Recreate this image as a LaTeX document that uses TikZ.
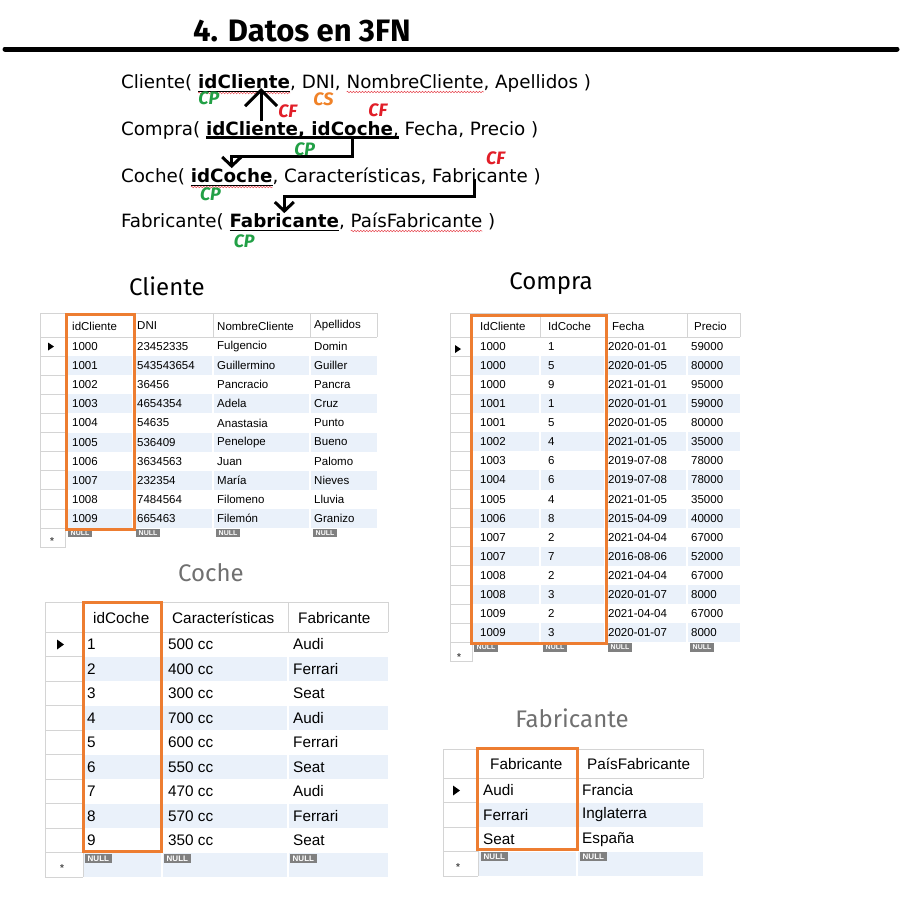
\documentclass[tikz,border=0pt]{standalone}
\usepackage{fontspec}
\setmainfont{Liberation Sans}
\newfontfamily\schemafont{DejaVu Sans}
\newfontfamily\handfont{Fira Sans}
\usetikzlibrary{positioning,arrows.meta,decorations.pathmorphing}

\definecolor{keyorange}{RGB}{237,125,49}
\definecolor{cpgreen}{RGB}{34,160,70}
\definecolor{cfred}{RGB}{225,30,40}
\definecolor{csorange}{RGB}{240,130,40}
\definecolor{rowshade}{RGB}{234,241,250}
\definecolor{gridgrey}{RGB}{212,212,212}
\definecolor{nullgrey}{RGB}{128,128,128}
\definecolor{titlegrey}{RGB}{112,112,112}

\tikzset{
  rel/.style={font=\schemafont\fontsize{18.3}{22}\selectfont, inner sep=0pt, outer sep=0pt},
  relkey/.style={rel, font=\schemafont\bfseries\fontsize{18.3}{22}\selectfont},
  uline/.style={line width=1.6pt},
  spell/.style={draw=cfred!80, line width=0.5pt, decorate,
    decoration={snake, amplitude=0.8pt, segment length=3pt}},
  tag/.style={font=\handfont\bfseries\itshape\fontsize{18}{18}\selectfont, inner sep=0pt},
  cp/.style={tag, text=cpgreen},
  cf/.style={tag, text=cfred},
  cs/.style={tag, text=csorange},
  fk/.style={line width=3pt, -{Straight Barb[length=9pt, width=19pt]}},
  fkbig/.style={line width=3pt, -{Straight Barb[length=16pt, width=32pt]}},
  tabtitle/.style={font=\handfont\fontsize{24}{26}\selectfont, inner sep=0pt},
  grid/.style={draw=gridgrey, line width=0.7pt},
  sep/.style={draw=white, line width=1.2pt},
  keybox/.style={draw=keyorange, line width=3pt},
  td/.style={font=\fontsize{11.5}{13}\selectfont, anchor=west, inner sep=0pt},
  tdbig/.style={font=\fontsize{15.3}{17}\selectfont, anchor=west, inner sep=0pt},
  nullbox/.style={fill=nullgrey, text=white, font=\bfseries\fontsize{7}{7}\selectfont,
    inner xsep=2.5pt, inner ysep=1.8pt, anchor=north west},
  nullbig/.style={nullbox, font=\bfseries\fontsize{8}{8}\selectfont},
  rowstar/.style={font=\bfseries\fontsize{10}{10}\selectfont, inner sep=0pt, text=black!70}
}

\begin{document}
\begin{tikzpicture}[x=1pt, y=-1pt]
\useasboundingbox (0,0) rectangle (902,908);

% title and rule
\node[font=\handfont\bfseries\fontsize{31}{34}\selectfont, anchor=base west, inner sep=0pt]
  (title) at (193,41) {4. Datos en 3FN};
\draw[line width=5pt, line cap=round] (5,49) -- (897,49);

%% relations in 3FN
\node[rel, anchor=base west] (cliA) at (121,88) {Cliente(\ \null};
\node[relkey, base right=0pt of cliA] (cliK) {idCliente};
\node[rel, base right=0pt of cliK] (cliB) {,\ \null};
\node[rel, base right=0pt of cliB] (cliDNI) {DNI};
\node[rel, base right=0pt of cliDNI] (cliC) {,\ \null};
\node[rel, base right=0pt of cliC] (cliNom) {NombreCliente};
\node[rel, base right=0pt of cliNom] (cliD) {, Apellidos )};

\node[rel, anchor=base west] (cpA) at (121,135) {Compra(\ \null};
\node[relkey, base right=0pt of cpA] (cpK1) {idCliente};
\node[relkey, base right=0pt of cpK1] (cpM) {,\ \null};
\node[relkey, base right=0pt of cpM] (cpK2) {idCoche};
\node[rel, base right=0pt of cpK2] (cpB) {, Fecha, Precio )};

\node[rel, anchor=base west] (coA) at (121,182) {Coche(\ \null};
\node[relkey, base right=0pt of coA] (coK) {idCoche};
\node[rel, base right=0pt of coK] (coB) {, Características,\ \null};
\node[rel, base right=0pt of coB] (coFab) {Fabricante};
\node[rel, base right=0pt of coFab] (coC) {\ )};

\node[rel, anchor=base west] (faA) at (121,227) {Fabricante(\ \null};
\node[relkey, base right=0pt of faA] (faK) {Fabricante};
\node[rel, base right=0pt of faK] (faB) {,\ \null};
\node[rel, base right=0pt of faB] (faPais) {PaísFabricante};
\node[rel, base right=0pt of faPais] (faC) {\ )};

% spell check waves
\draw[spell] ([yshift=-5pt]cliK.base west) -- ([yshift=-5pt]cliK.base east);
\draw[spell] ([yshift=-4pt]cliNom.base west) -- ([yshift=-4pt]cliNom.base east);
\draw[spell] ([yshift=-5pt]coK.base west) -- ([yshift=-5pt]coK.base east);
\draw[spell] ([yshift=-4pt]faPais.base west) -- ([yshift=-4pt]faPais.base east);

% key underlines
\draw[uline] ([yshift=-3.5pt]cliK.base west) -- ([yshift=-3.5pt]cliK.base east);
\draw[uline, line width=2.2pt] ([yshift=-2.5pt]cpK1.base west) -- ([xshift=6pt,yshift=-2.5pt]cpK2.base east);
\draw[uline] ([yshift=-3.5pt]coK.base west) -- ([yshift=-3.5pt]coK.base east);
\draw[uline] ([yshift=-3.5pt]faK.base west) -- ([yshift=-3.5pt]faK.base east);

% foreign keys
\coordinate (up1) at ([xshift=9pt]cpK1.north);
\draw[fkbig] (up1) -- (up1 |- cliK.base);
\draw[fk] ([yshift=-2.5pt]cpK2.base) -- ++(0,19) -| (coK.north);
\draw[fk] ([xshift=-6pt,yshift=3pt]coFab.base) -- ++(0,17) -| (faK.north);

% key labels
\node[cp, anchor=north west] (cpCli) at ([yshift=-4pt]cliK.base west) {CP};
\node[cs, anchor=north] (csCli) at ([xshift=5pt,yshift=-5pt]cliDNI.base) {CS};
\node[cf, anchor=west] (cfCli) at ([xshift=17pt,yshift=10pt]up1) {CF};
\node[cf, anchor=south west] (cfCoche) at ([xshift=16pt,yshift=4pt]cpK2.north) {CF};
\node[cp, anchor=north] (cpCompra) at ([yshift=-8pt]cpM.base) {CP};
\node[cp, anchor=north west] (cpCoche) at ([xshift=9pt,yshift=-6pt]coK.base west) {CP};
\node[cf, anchor=south west] (cfFab) at ([xshift=6pt,yshift=3pt]coFab.north) {CF};
\node[cp, anchor=north west] (cpFab) at ([xshift=4pt,yshift=-8pt]faK.base west) {CP};

%% Cliente table
\node[tabtitle] (tCliente) at (167,286) {Cliente};
\foreach \i in {2,4,...,10}
  \fill[rowshade] (65,{337+(\i-1)*19.1}) rectangle (377,{337+\i*19.1});
\foreach \x in {133,213,310}
  \draw[sep] (\x,337) -- (\x,548);
\foreach \i in {0,...,11}
  \draw[grid] (40,{337+\i*19.1}) -- (65,{337+\i*19.1});
\draw[grid] (377,313) -- (40,313) -- (40,548);
\draw[grid] (65,313) -- (65,548);
\draw[grid] (40,337) -- (377,337);
\foreach \x in {133,213,310,377}
  \draw[grid] (\x,313) -- (\x,337);
\node[td] (cliH1) at (72,326) {idCliente};
\node[td] (cliH2) at (137,326) {DNI};
\node[td] (cliH3) at (217,326) {NombreCliente};
\node[td] (cliH4) at (314,326) {Apellidos};
\foreach \a/\b/\c/\d [count=\i] in {1000/23452335/Fulgencio/Domin,
  1001/543543654/Guillermino/Guiller, 1002/36456/Pancracio/Pancra,
  1003/4654354/Adela/Cruz, 1004/54635/Anastasia/Punto,
  1005/536409/Penelope/Bueno, 1006/3634563/Juan/Palomo,
  1007/232354/María/Nieves, 1008/7484564/Filomeno/Lluvia,
  1009/665463/Filemón/Granizo}
{
  \node[td] (cli-\i-1) at (72,{337+(\i-0.5)*19.1}) {\a};
  \node[td] (cli-\i-2) at (137,{337+(\i-0.5)*19.1}) {\b};
  \node[td] (cli-\i-3) at (217,{337+(\i-0.5)*19.1}) {\c};
  \node[td] (cli-\i-4) at (314,{337+(\i-0.5)*19.1}) {\d};
}
\foreach \x [count=\j] in {68,136,216,313}
  \node[nullbox] (cliNull\j) at (\x,528.5) {NULL};
\fill (48,342.5) -- (54,346.5) -- (48,350.5) -- cycle;
\node[rowstar] (cliStar) at (52,541) {*};
\draw[keybox] (66,314) rectangle (134,529);

%% Compra table
\node[tabtitle] (tCompra) at (551,284) {Compra};
\foreach \i in {2,4,...,16}
  \fill[rowshade] (472,{337+(\i-1)*19.07}) rectangle (740,{337+\i*19.07});
\foreach \x in {540,605,687}
  \draw[sep] (\x,337) -- (\x,662);
\foreach \i in {0,...,17}
  \draw[grid] (450,{337+\i*19.07}) -- (472,{337+\i*19.07});
\draw[grid] (740,313) -- (450,313) -- (450,662);
\draw[grid] (472,313) -- (472,662);
\draw[grid] (450,337) -- (740,337);
\foreach \x in {540,605,687,740}
  \draw[grid] (\x,313) -- (\x,337);
\node[td] (cpH1) at (480,326) {IdCliente};
\node[td] (cpH2) at (548,326) {IdCoche};
\node[td] (cpH3) at (612,326) {Fecha};
\node[td] (cpH4) at (694,326) {Precio};
\foreach \a/\b/\c/\d [count=\i] in {1000/1/2020-01-01/59000,
  1000/5/2020-01-05/80000, 1000/9/2021-01-01/95000,
  1001/1/2020-01-01/59000, 1001/5/2020-01-05/80000,
  1002/4/2021-01-05/35000, 1003/6/2019-07-08/78000,
  1004/6/2019-07-08/78000, 1005/4/2021-01-05/35000,
  1006/8/2015-04-09/40000, 1007/2/2021-04-04/67000,
  1007/7/2016-08-06/52000, 1008/2/2021-04-04/67000,
  1008/3/2020-01-07/8000, 1009/2/2021-04-04/67000,
  1009/3/2020-01-07/8000}
{
  \node[td] (cp-\i-1) at (480,{337+(\i-0.5)*19.07}) {\a};
  \node[td] (cp-\i-2) at (548,{337+(\i-0.5)*19.07}) {\b};
  \node[td] (cp-\i-3) at (608,{337+(\i-0.5)*19.07}) {\c};
  \node[td] (cp-\i-4) at (691,{337+(\i-0.5)*19.07}) {\d};
}
\foreach \x [count=\j] in {474,543,608,690}
  \node[nullbox] (cpNull\j) at (\x,643) {NULL};
\fill (455,345) -- (461,349) -- (455,353) -- cycle;
\node[rowstar] (cpStar) at (459,657) {*};
\draw[keybox] (471,315) rectangle (606,643);

%% Coche table
\node[tabtitle, text=titlegrey] (tCoche) at (211,573) {Coche};
\foreach \i in {2,4,...,10}
  \fill[rowshade] (83,{632+(\i-1)*24.5}) rectangle (388,{632+\i*24.5});
\foreach \x in {162,288}
  \draw[sep] (\x,632) -- (\x,877);
\foreach \i in {0,...,10}
  \draw[grid] (45,{632+\i*24.5}) -- (83,{632+\i*24.5});
\draw[grid] (388,602) -- (45,602) -- (45,877);
\draw[grid] (83,602) -- (83,877);
\draw[grid] (45,632) -- (388,632);
\foreach \x in {162,288,388}
  \draw[grid] (\x,602) -- (\x,632);
\node[tdbig] (coH1) at (93,618) {idCoche};
\node[tdbig] (coH2) at (172,618) {Características};
\node[tdbig] (coH3) at (298,618) {Fabricante};
\foreach \a/\b/\c [count=\i] in {1/500 cc/Audi, 2/400 cc/Ferrari, 3/300 cc/Seat,
  4/700 cc/Audi, 5/600 cc/Ferrari, 6/550 cc/Seat, 7/470 cc/Audi,
  8/570 cc/Ferrari, 9/350 cc/Seat}
{
  \node[tdbig] (co-\i-1) at (87,{632+(\i-0.5)*24.5}) {\a};
  \node[tdbig] (co-\i-2) at (168,{632+(\i-0.5)*24.5}) {\b};
  \node[tdbig] (co-\i-3) at (293,{632+(\i-0.5)*24.5}) {\c};
}
\foreach \x [count=\j] in {85,164,290}
  \node[nullbig] (coNull\j) at (\x,854) {NULL};
\fill (57,639.5) -- (64,644.5) -- (57,649.5) -- cycle;
\node[rowstar] (coStar) at (62,868) {*};
\draw[keybox] (83,602) rectangle (161,851);

%% Fabricante table
\node[tabtitle, text=titlegrey] (tFab) at (572,718) {Fabricante};
\foreach \i in {2,4}
  \fill[rowshade] (478,{778+(\i-1)*24.5}) rectangle (703,{778+\i*24.5});
\draw[sep] (577,778) -- (577,876);
\foreach \i in {0,...,4}
  \draw[grid] (443,{778+\i*24.5}) -- (478,{778+\i*24.5});
\draw[grid] (703,749) -- (443,749) -- (443,876);
\draw[grid] (478,749) -- (478,876);
\draw[grid] (443,778) -- (703,778);
\foreach \x in {577,703}
  \draw[grid] (\x,749) -- (\x,778);
\node[tdbig] (faH1) at (490,764) {Fabricante};
\node[tdbig] (faH2) at (587,764) {PaísFabricante};
\foreach \a/\b [count=\i] in {Audi/Francia, Ferrari/Inglaterra, Seat/España}
{
  \node[tdbig] (fa-\i-1) at (483,{778+(\i-0.5)*24.5}) {\a};
  \node[tdbig] (fa-\i-2) at (582,{778+(\i-0.5)*24.5}) {\b};
}
\foreach \x [count=\j] in {481,580}
  \node[nullbig] (faNull\j) at (\x,852) {NULL};
\fill (453,785.5) -- (460,790.5) -- (453,795.5) -- cycle;
\node[rowstar] (faStar) at (458,867) {*};
\draw[keybox] (477,748) rectangle (577,849);

\end{tikzpicture}
\end{document}
